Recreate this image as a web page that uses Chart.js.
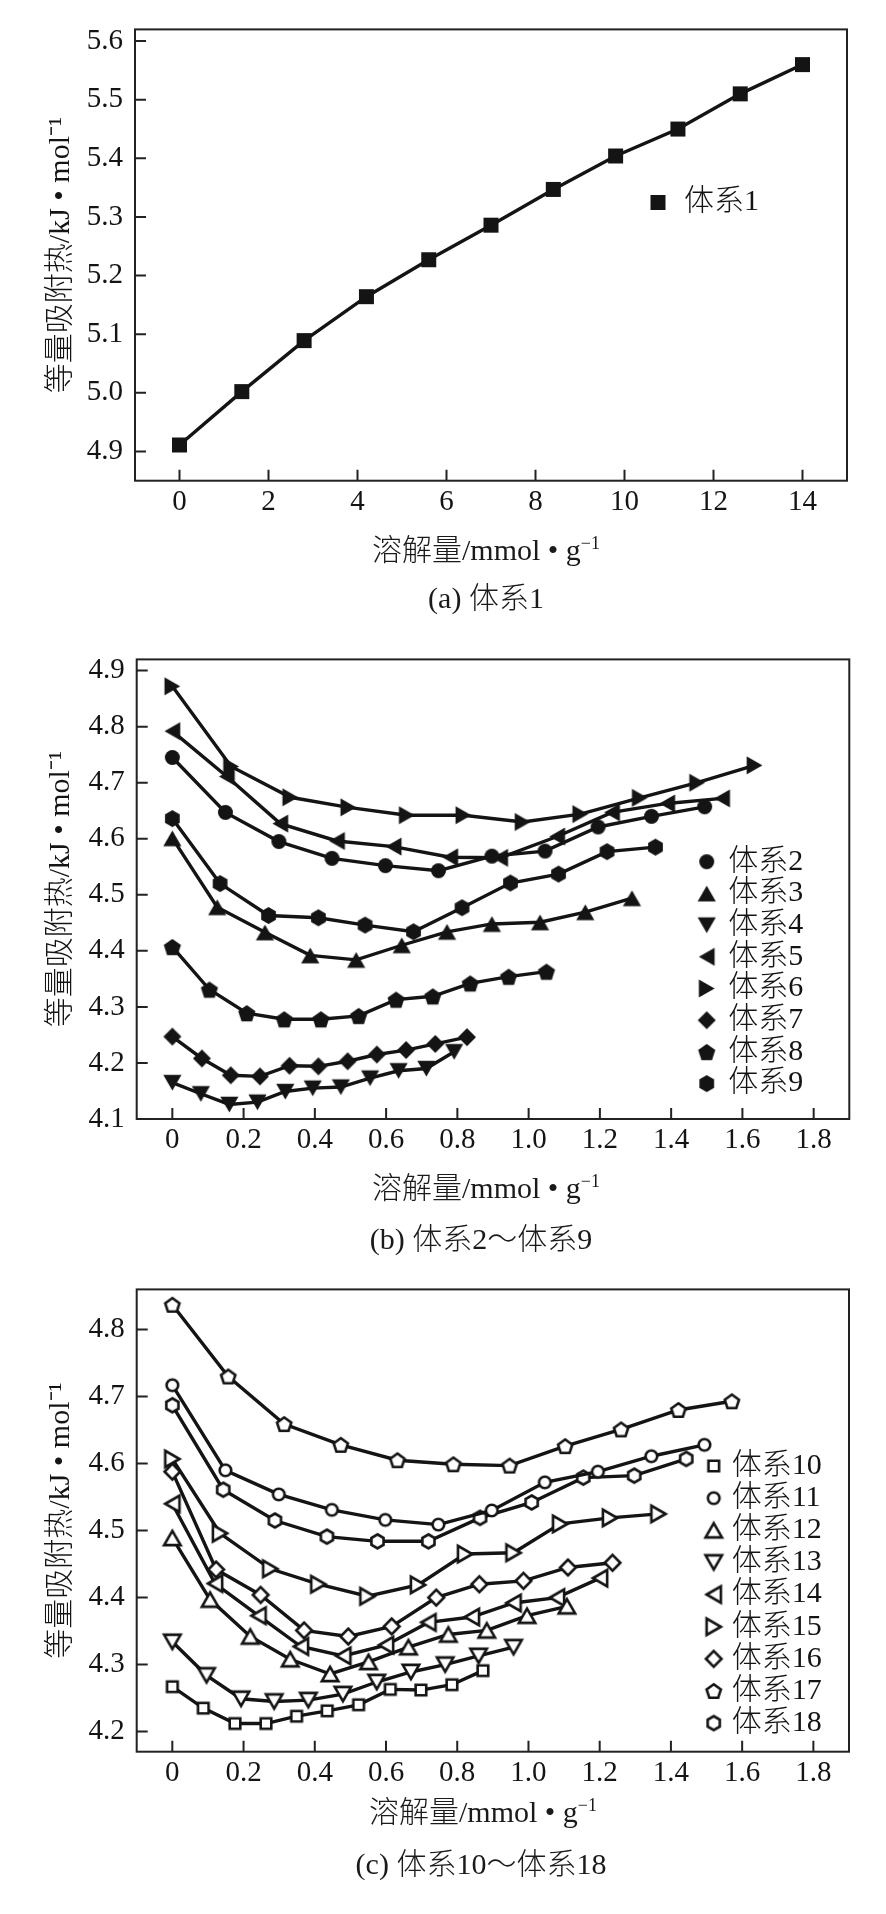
<!DOCTYPE html>
<html>
<head>
<meta charset="utf-8">
<script src="https://cdn.jsdelivr.net/npm/chart.js@4.4.1/dist/chart.umd.min.js"></script>
<style>
  body { margin: 0; background: #fff; width: 886px; height: 1914px; position: relative; overflow: hidden;
         font-family: "Liberation Serif", "Noto Sans CJK SC", serif; font-weight: 300; color: #1a1a1a; }
  canvas { position: absolute; left: 0; }
  .txt { position: absolute; width: 400px; text-align: center; font-size: 30px; line-height: 36px; white-space: nowrap; }
  .txt sup { font-size: 18px; line-height: 0; vertical-align: 11px; }
</style>
</head>
<body>
<canvas id="ca" width="886" height="630" style="top:0"></canvas>
<canvas id="cb" width="886" height="630" style="top:630px"></canvas>
<canvas id="cc" width="886" height="654" style="top:1260px"></canvas>

<div class="txt" style="left:286px;top:532px">溶解量/mmol • g<sup>−1</sup></div>
<div class="txt" style="left:286px;top:580px">(a) 体系1</div>
<div class="txt" style="left:286px;top:1170px">溶解量/mmol • g<sup>−1</sup></div>
<div class="txt" style="left:281px;top:1221px">(b) 体系2～体系9</div>
<div class="txt" style="left:283px;top:1794px">溶解量/mmol • g<sup>−1</sup></div>
<div class="txt" style="left:281px;top:1846px">(c) 体系10～体系18</div>

<script>
// ---- data ----
// (a)
const x1 = [0, 1.4, 2.8, 4.2, 5.6, 7.0, 8.4, 9.8, 11.2, 12.6, 14.0];
const y1 = [4.911, 5.002, 5.089, 5.164, 5.227, 5.286, 5.347, 5.404, 5.450, 5.510, 5.560];
const xTicksA = [0, 2, 4, 6, 8, 10, 12, 14];
const xLabelsA = ['0', '2', '4', '6', '8', '10', '12', '14'];
const yTicksA = [4.9, 5.0, 5.1, 5.2, 5.3, 5.4, 5.5, 5.6];
const yLabelsA = ['4.9', '5.0', '5.1', '5.2', '5.3', '5.4', '5.5', '5.6'];

// (b)
const x2 = [0, 0.149, 0.299, 0.448, 0.598, 0.747, 0.897, 1.046, 1.195, 1.345, 1.494];
const y2 = [4.745, 4.647, 4.595, 4.565, 4.552, 4.543, 4.569, 4.578, 4.621, 4.640, 4.657];
const x3 = [0, 0.126, 0.260, 0.387, 0.516, 0.644, 0.771, 0.897, 1.032, 1.159, 1.290];
const y3 = [4.601, 4.478, 4.433, 4.392, 4.384, 4.410, 4.434, 4.448, 4.451, 4.469, 4.494];
const x4 = [0, 0.080, 0.160, 0.239, 0.317, 0.394, 0.473, 0.555, 0.635, 0.713, 0.791];
const y4 = [4.165, 4.145, 4.126, 4.130, 4.149, 4.155, 4.157, 4.173, 4.186, 4.190, 4.220];
const x5 = [0, 0.153, 0.303, 0.462, 0.621, 0.780, 0.920, 1.080, 1.234, 1.389, 1.543];
const y5 = [4.792, 4.711, 4.627, 4.596, 4.586, 4.567, 4.566, 4.604, 4.647, 4.663, 4.672];
const x6 = [0, 0.165, 0.331, 0.494, 0.658, 0.817, 0.983, 1.145, 1.312, 1.473, 1.634];
const y6 = [4.872, 4.729, 4.674, 4.656, 4.642, 4.642, 4.630, 4.644, 4.673, 4.700, 4.731];
const x7 = [0, 0.083, 0.164, 0.246, 0.329, 0.410, 0.492, 0.574, 0.656, 0.738, 0.827];
const y7 = [4.247, 4.208, 4.178, 4.176, 4.195, 4.194, 4.203, 4.215, 4.223, 4.234, 4.246];
const x8 = [0, 0.104, 0.209, 0.314, 0.417, 0.523, 0.628, 0.731, 0.836, 0.944, 1.050];
const y8 = [4.407, 4.331, 4.289, 4.278, 4.278, 4.284, 4.313, 4.319, 4.342, 4.354, 4.363];
const x9 = [0, 0.134, 0.270, 0.410, 0.541, 0.677, 0.813, 0.949, 1.084, 1.220, 1.356];
const y9 = [4.636, 4.520, 4.463, 4.459, 4.446, 4.434, 4.477, 4.521, 4.537, 4.577, 4.585];
const yTicksB = [4.1, 4.2, 4.3, 4.4, 4.5, 4.6, 4.7, 4.8, 4.9];
const yLabelsB = ['4.1', '4.2', '4.3', '4.4', '4.5', '4.6', '4.7', '4.8', '4.9'];

// (c)
const x10 = [0, 0.087, 0.176, 0.263, 0.349, 0.435, 0.523, 0.612, 0.698, 0.785, 0.872];
const y10 = [4.267, 4.235, 4.212, 4.212, 4.223, 4.231, 4.240, 4.263, 4.262, 4.270, 4.291];
const x11 = [0, 0.149, 0.299, 0.448, 0.598, 0.747, 0.897, 1.046, 1.195, 1.345, 1.494];
const y11 = [4.717, 4.590, 4.554, 4.531, 4.516, 4.509, 4.530, 4.572, 4.588, 4.611, 4.628];
const x12 = [0, 0.106, 0.219, 0.331, 0.443, 0.551, 0.663, 0.775, 0.883, 0.996, 1.108];
const y12 = [4.489, 4.397, 4.342, 4.308, 4.286, 4.304, 4.326, 4.345, 4.351, 4.373, 4.387];
const x13 = [0, 0.096, 0.193, 0.286, 0.382, 0.479, 0.574, 0.670, 0.766, 0.860, 0.958];
const y13 = [4.334, 4.284, 4.249, 4.245, 4.247, 4.256, 4.274, 4.289, 4.300, 4.313, 4.326];
const x14 = [0, 0.120, 0.242, 0.361, 0.480, 0.600, 0.719, 0.841, 0.958, 1.080, 1.201];
const y14 = [4.540, 4.421, 4.373, 4.327, 4.313, 4.329, 4.363, 4.371, 4.392, 4.400, 4.429];
const x15 = [0, 0.134, 0.275, 0.410, 0.548, 0.690, 0.822, 0.958, 1.089, 1.229, 1.365];
const y15 = [4.607, 4.496, 4.443, 4.420, 4.402, 4.419, 4.465, 4.467, 4.510, 4.519, 4.525];
const x16 = [0, 0.123, 0.248, 0.370, 0.494, 0.616, 0.741, 0.862, 0.986, 1.111, 1.236];
const y16 = [4.588, 4.442, 4.404, 4.351, 4.342, 4.357, 4.400, 4.420, 4.425, 4.445, 4.452];
const x17 = [0, 0.157, 0.314, 0.473, 0.632, 0.789, 0.947, 1.103, 1.260, 1.421, 1.571];
const y17 = [4.837, 4.730, 4.659, 4.628, 4.605, 4.599, 4.597, 4.626, 4.651, 4.680, 4.693];
const x18 = [0, 0.143, 0.288, 0.434, 0.576, 0.719, 0.864, 1.009, 1.154, 1.297, 1.443];
const y18 = [4.687, 4.561, 4.515, 4.491, 4.484, 4.484, 4.519, 4.542, 4.579, 4.582, 4.607];
const yTicksC = [4.2, 4.3, 4.4, 4.5, 4.6, 4.7, 4.8];
const yLabelsC = ['4.2', '4.3', '4.4', '4.5', '4.6', '4.7', '4.8'];

const xTicksBC = [0, 0.2, 0.4, 0.6, 0.8, 1.0, 1.2, 1.4, 1.6, 1.8];
const xLabelsBC = ['0', '0.2', '0.4', '0.6', '0.8', '1.0', '1.2', '1.4', '1.6', '1.8'];

// ---- markers ----
const INK = '#141414';
const FONT = '"Liberation Serif", "Noto Sans CJK SC", serif';

function marker(shape, r, open) {
  const lw = open ? 2.6 : 0;
  const S = Math.ceil(2 * r + lw + 6);
  const c = document.createElement('canvas');
  c.width = S; c.height = S;
  const g = c.getContext('2d');
  g.translate(S / 2, S / 2);
  const poly = (n, rot, dx, dy) => {
    for (let i = 0; i < n; i++) {
      const a = rot + i * 2 * Math.PI / n;
      const px = dx + r * Math.sin(a), py = dy - r * Math.cos(a);
      if (i) g.lineTo(px, py); else g.moveTo(px, py);
    }
    g.closePath();
  };
  g.beginPath();
  if (shape === 'circle') g.arc(0, 0, r, 0, 2 * Math.PI);
  else if (shape === 'square') g.rect(-r, -r, 2 * r, 2 * r);
  else if (shape === 'up') poly(3, 0, 0, r / 4);
  else if (shape === 'down') poly(3, Math.PI, 0, -r / 4);
  else if (shape === 'left') poly(3, -Math.PI / 2, r / 4, 0);
  else if (shape === 'right') poly(3, Math.PI / 2, -r / 4, 0);
  else if (shape === 'diamond') poly(4, 0, 0, 0);
  else if (shape === 'pentagon') poly(5, 0, 0, r * 0.1);
  else if (shape === 'hexagon') poly(6, 0, 0, 0);
  if (open) {
    g.fillStyle = '#fff'; g.fill();
    g.lineWidth = lw; g.strokeStyle = INK; g.lineJoin = 'miter'; g.stroke();
  } else {
    g.fillStyle = INK; g.fill();
  }
  return c;
}

const pts = (xs, ys) => xs.map((x, i) => ({ x: x, y: ys[i] }));

function series(label, xs, ys, style) {
  return {
    label: label,
    data: pts(xs, ys),
    showLine: true,
    fill: false,
    borderColor: INK,
    borderWidth: 3.4,
    pointStyle: style,
    pointRadius: 8,
    pointHoverRadius: 8,
    clip: false
  };
}

// frame, inward ticks and in-plot legend
const framePlugin = {
  id: 'frame',
  beforeDatasetsDraw(chart) {
    const { ctx, chartArea: a, scales } = chart;
    ctx.save();
    ctx.strokeStyle = '#222';
    ctx.lineWidth = 2;
    ctx.strokeRect(a.left, a.top, a.right - a.left, a.bottom - a.top);
    ctx.beginPath();
    scales.x.ticks.forEach(t => {
      const p = scales.x.getPixelForValue(t.value);
      ctx.moveTo(p, a.bottom); ctx.lineTo(p, a.bottom - 11);
    });
    scales.y.ticks.forEach(t => {
      const p = scales.y.getPixelForValue(t.value);
      ctx.moveTo(a.left, p); ctx.lineTo(a.left + 11, p);
    });
    ctx.stroke();
    ctx.restore();
  },
  afterDraw(chart, args, opts) {
    if (!opts || opts.x === undefined) return;
    const { ctx } = chart;
    ctx.save();
    ctx.font = '300 30px ' + FONT;
    ctx.fillStyle = INK;
    ctx.textBaseline = 'middle';
    ctx.textAlign = 'left';
    chart.data.datasets.forEach((ds, i) => {
      const y = opts.y + i * opts.dy;
      const m = ds.pointStyle;
      ctx.drawImage(m, opts.x - m.width / 2, y - m.height / 2);
      ctx.fillText(ds.label, opts.textX, y);
    });
    ctx.restore();
  }
};

function makeChart(id, datasets, c) {
  const tickFont = { family: FONT, size: 29 };
  new Chart(document.getElementById(id), {
    type: 'scatter',
    data: { datasets: datasets },
    plugins: [framePlugin],
    options: {
      responsive: false,
      animation: false,
      events: [],
      layout: { padding: { left: 0, top: c.padTop, right: c.padRight, bottom: 0 } },
      plugins: {
        legend: { display: false },
        tooltip: { enabled: false },
        frame: c.legend
      },
      scales: {
        x: {
          type: 'linear',
          min: c.xMin, max: c.xMax,
          afterBuildTicks: s => { s.ticks = c.xTicks.map(v => ({ value: v })); },
          afterFit: s => { s.height = c.bottomH; },
          grid: { display: false, drawTicks: false },
          border: { display: false },
          ticks: {
            autoSkip: false, maxRotation: 0, padding: 4, color: INK, font: tickFont,
            callback: (v, i) => c.xLabels[i]
          }
        },
        y: {
          type: 'linear',
          min: c.yMin, max: c.yMax,
          afterBuildTicks: s => { s.ticks = c.yTicks.map(v => ({ value: v })); },
          afterFit: s => { s.width = c.leftW; },
          grid: { display: false, drawTicks: false },
          border: { display: false },
          ticks: {
            autoSkip: false, padding: 12, color: INK, font: tickFont,
            callback: (v, i) => c.yLabels[i]
          },
          title: {
            display: true,
            text: '等量吸附热/kJ • mol⁻¹',
            color: INK,
            font: { family: FONT, size: 30, weight: 300 },
            padding: { top: 43, bottom: 0 }
          }
        }
      }
    }
  });
}

makeChart('ca', [
  series('体系1', x1, y1, marker('square', 7.5, false))
], {
  xMin: -1, xMax: 15, yMin: 4.85, yMax: 5.62,
  xTicks: xTicksA, xLabels: xLabelsA, yTicks: yTicksA, yLabels: yLabelsA,
  padTop: 7, padRight: 39, leftW: 135, bottomH: 149.3,
  legend: { x: 658, textX: 684, y: 202.5, dy: 32 }
});

makeChart('cb', [
  series('体系2', x2, y2, marker('circle', 7.5, false)),
  series('体系3', x3, y3, marker('up', 10.5, false)),
  series('体系4', x4, y4, marker('down', 10.5, false)),
  series('体系5', x5, y5, marker('left', 10.5, false)),
  series('体系6', x6, y6, marker('right', 10.5, false)),
  series('体系7', x7, y7, marker('diamond', 9, false)),
  series('体系8', x8, y8, marker('pentagon', 9, false)),
  series('体系9', x9, y9, marker('hexagon', 8.5, false))
], {
  xMin: -0.1, xMax: 1.9, yMin: 4.1, yMax: 4.92,
  xTicks: xTicksBC, xLabels: xLabelsBC, yTicks: yTicksB, yLabels: yLabelsB,
  padTop: 15, padRight: 36.7, leftW: 136.7, bottomH: 141,
  legend: { x: 706.7, textX: 728.3, y: 231.7, dy: 31.7 }
});

makeChart('cc', [
  series('体系10', x10, y10, marker('square', 5.3, true)),
  series('体系11', x11, y11, marker('circle', 5.8, true)),
  series('体系12', x12, y12, marker('up', 9.5, true)),
  series('体系13', x13, y13, marker('down', 9.5, true)),
  series('体系14', x14, y14, marker('left', 9.5, true)),
  series('体系15', x15, y15, marker('right', 9.5, true)),
  series('体系16', x16, y16, marker('diamond', 7.8, true)),
  series('体系17', x17, y17, marker('pentagon', 7.5, true)),
  series('体系18', x18, y18, marker('hexagon', 7, true))
], {
  xMin: -0.1, xMax: 1.9, yMin: 4.17, yMax: 4.86,
  xTicks: xTicksBC, xLabels: xLabelsBC, yTicks: yTicksC, yLabels: yLabelsC,
  padTop: 16, padRight: 37, leftW: 136.7, bottomH: 162.3,
  legend: { x: 713.7, textX: 731.7, y: 206, dy: 32.14 }
});
</script>
</body>
</html>
